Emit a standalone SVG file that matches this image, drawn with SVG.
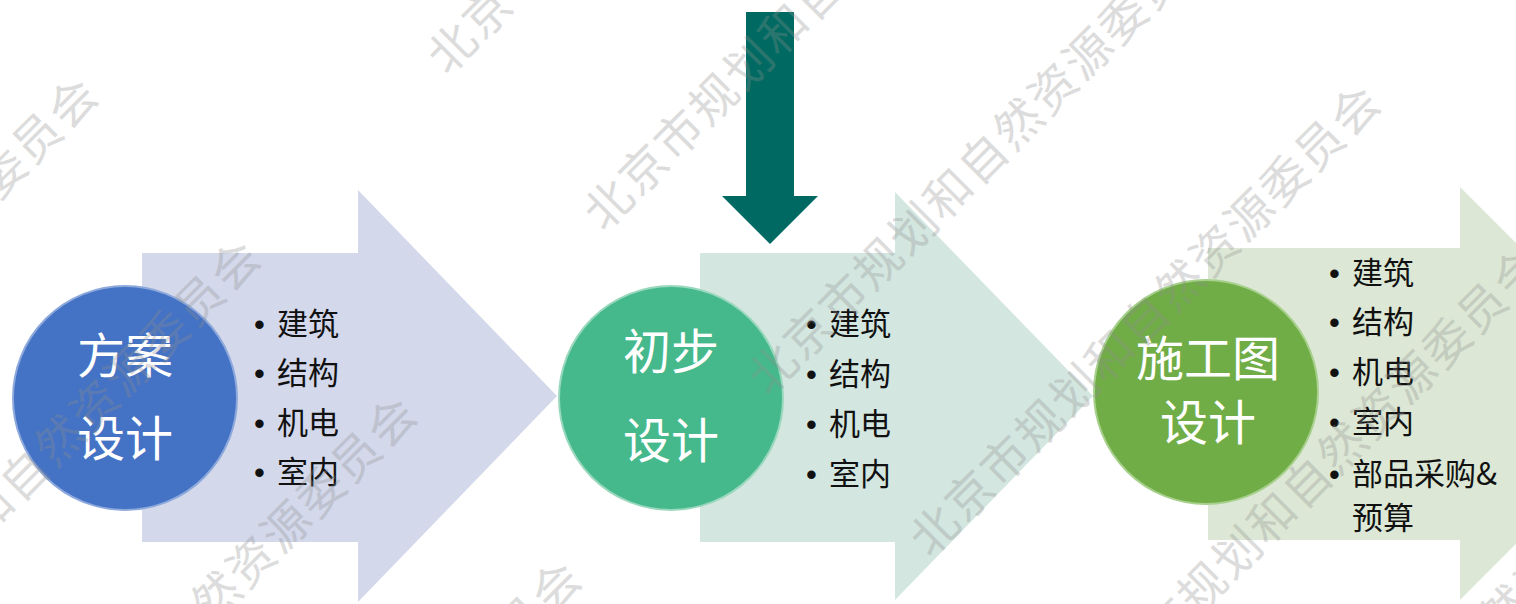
<svg xmlns="http://www.w3.org/2000/svg" xmlns:xlink="http://www.w3.org/1999/xlink" width="1516" height="604" viewBox="0 0 1516 604">
<style>
.ctext{font-family:"Noto Sans CJK SC","Liberation Sans",sans-serif;font-size:48px;fill:#ffffff;text-anchor:middle}
.btext{font-family:"Noto Sans CJK SC","Liberation Sans",sans-serif;font-size:31px;fill:#111111}
.dot{font-family:"Liberation Sans",sans-serif}
.wm{font-family:"Noto Sans CJK SC",sans-serif;font-size:47px;letter-spacing:2.5px;fill:#8f8f8f;opacity:0.3;dominant-baseline:central}
</style>
<defs>
<text id="wm" class="wm" x="0" y="0">北京市规划和自然资源委员会</text>
</defs>
<rect width="1516" height="604" fill="#ffffff"/>
<g id="stage1">
<polygon points="142,253 358,253 358,190 557,396 358,602 358,542 142,542" fill="#D3D8EB"/>
<circle cx="125" cy="398" r="112" fill="#4472C4" stroke="#8DA9DC" stroke-width="2"/>
<text class="ctext" x="125" y="373">方案</text>
<text class="ctext" x="125" y="456">设计</text>
<text class="btext"><tspan class="dot" x="254" y="335">•</tspan><tspan x="277" y="335">建筑</tspan></text>
<text class="btext"><tspan class="dot" x="254" y="384">•</tspan><tspan x="277" y="384">结构</tspan></text>
<text class="btext"><tspan class="dot" x="254" y="434">•</tspan><tspan x="277" y="434">机电</tspan></text>
<text class="btext"><tspan class="dot" x="254" y="483">•</tspan><tspan x="277" y="483">室内</tspan></text>
</g>
<g id="stage2">
<polygon points="700,253 895,253 895,192 1093,396 895,600 895,542 700,542" fill="#D3E6E0"/>
<circle cx="671" cy="398" r="112" fill="#45B98C" stroke="#9AD8BE" stroke-width="2"/>
<text class="ctext" x="671" y="369">初步</text>
<text class="ctext" x="671" y="458">设计</text>
<text class="btext"><tspan class="dot" x="806" y="335">•</tspan><tspan x="829" y="335">建筑</tspan></text>
<text class="btext"><tspan class="dot" x="806" y="385">•</tspan><tspan x="829" y="385">结构</tspan></text>
<text class="btext"><tspan class="dot" x="806" y="435">•</tspan><tspan x="829" y="435">机电</tspan></text>
<text class="btext"><tspan class="dot" x="806" y="485">•</tspan><tspan x="829" y="485">室内</tspan></text>
</g>
<g id="stage3">
<polygon points="1208,248 1460,248 1460,187 1666,393 1460,600 1460,540 1208,540" fill="#DCE8D5"/>
<circle cx="1206" cy="392" r="112" fill="#70AD47" stroke="#A8D08D" stroke-width="2"/>
<text class="ctext" x="1208" y="376">施工图</text>
<text class="ctext" x="1208" y="440">设计</text>
<text class="btext"><tspan class="dot" x="1329" y="284">•</tspan><tspan x="1352" y="284">建筑</tspan></text>
<text class="btext"><tspan class="dot" x="1329" y="333">•</tspan><tspan x="1352" y="333">结构</tspan></text>
<text class="btext"><tspan class="dot" x="1329" y="383">•</tspan><tspan x="1352" y="383">机电</tspan></text>
<text class="btext"><tspan class="dot" x="1329" y="433">•</tspan><tspan x="1352" y="433">室内</tspan></text>
<text class="btext"><tspan class="dot" x="1329" y="485">•</tspan><tspan x="1352" y="485">部品采购&amp;</tspan></text>
<text class="btext" x="1352" y="529">预算</text>
</g>
<g id="connectors">
<polygon points="746,12 794,12 794,196 818,196 770,244 722,196 746,196" fill="#006A62"/>
</g>
<g id="watermark">
<use xlink:href="#wm" transform="translate(-367,537) rotate(-45)"/>
<use xlink:href="#wm" transform="translate(-204.5,699.5) rotate(-45)"/>
<use xlink:href="#wm" transform="translate(433,62) rotate(-45)"/>
<use xlink:href="#wm" transform="translate(-48,856) rotate(-45)"/>
<use xlink:href="#wm" transform="translate(589.5,218.5) rotate(-45)"/>
<use xlink:href="#wm" transform="translate(116.5,1020.5) rotate(-45)"/>
<use xlink:href="#wm" transform="translate(754,383) rotate(-45)"/>
<use xlink:href="#wm" transform="translate(915.5,544.5) rotate(-45)"/>
<use xlink:href="#wm" transform="translate(1078,707) rotate(-45)"/>
<use xlink:href="#wm" transform="translate(1240.5,869.5) rotate(-45)"/>
</g>
</svg>
